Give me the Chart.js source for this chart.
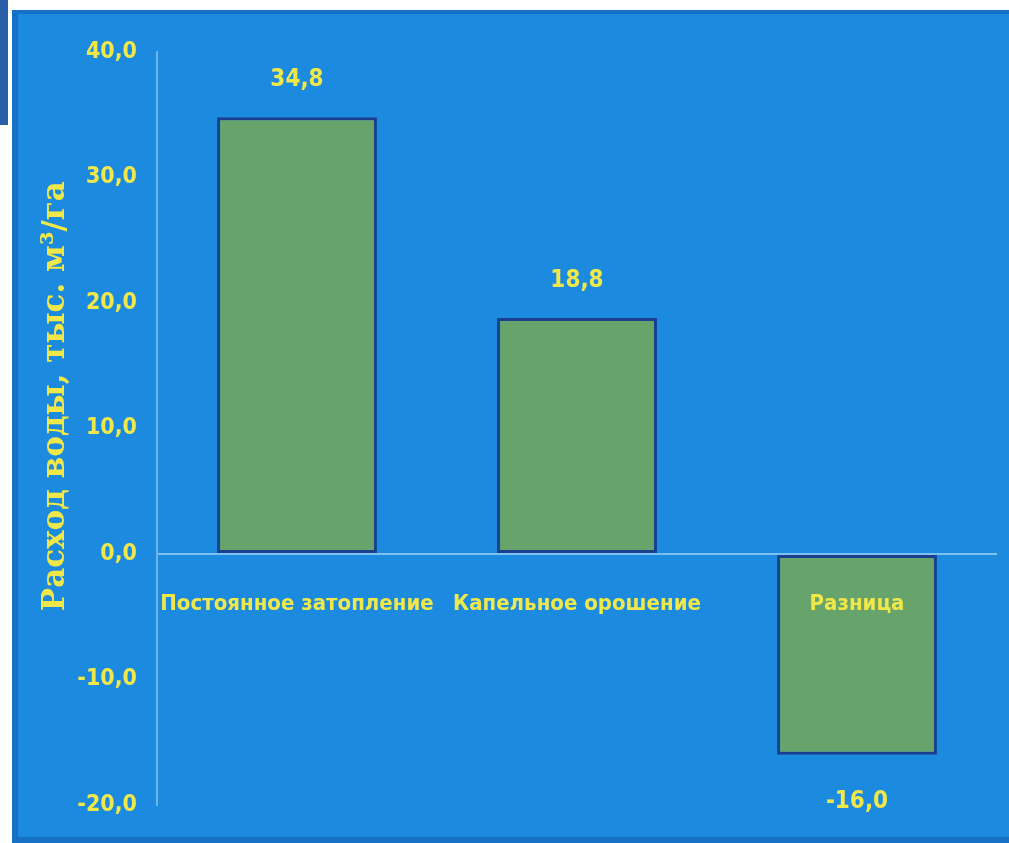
<!DOCTYPE html>
<html>
<head>
<meta charset="utf-8">
<script src="https://cdn.jsdelivr.net/npm/chart.js@4"></script>
<style>
    html, body { margin: 0; padding: 0; background: #ffffff; }
    body { width: 1009px; height: 843px; position: relative; overflow: hidden; }
    #slideMark { position: absolute; left: 0; top: 0; width: 8px; height: 125px; background: #2b5ea8; }
    #frame {
        position: absolute; left: 12px; top: 10px; width: 997px; height: 833px;
        background: #1c8ade;
        box-shadow: inset 6px 4px 0 #1670c4, inset 0 -6px 0 #1670c4;
    }
</style>
</head>
<body>
<div id="slideMark"></div>
<div id="frame"><canvas id="waterChart"></canvas></div>
<script>
const categories = ['Постоянное затопление', 'Капельное орошение', 'Разница'];
const waterUse = [34.8, 18.8, -16.0];
const yTicks = [-20, -10, 0, 10, 20, 30, 40];

const yellow = '#f0e84a';
const narrow = "'Liberation Sans Narrow', 'DejaVu Sans Condensed', 'Arial Narrow', sans-serif";

function fmt(v) {
    return v.toFixed(1).replace('.', ',');
}

// value labels above / below the bars
const valueLabels = {
    id: 'valueLabels',
    afterDatasetsDraw(chart) {
        const ctx = chart.ctx;
        const meta = chart.getDatasetMeta(0);
        ctx.save();
        ctx.font = 'bold 24px ' + narrow;
        ctx.fillStyle = yellow;
        ctx.textAlign = 'center';
        ctx.textBaseline = 'middle';
        meta.data.forEach((bar, i) => {
            const v = waterUse[i];
            const y = v >= 0 ? bar.y - 37 : bar.y + 47;
            ctx.fillText(fmt(v), bar.x, y);
        });
        ctx.restore();
    }
};

new Chart(document.getElementById('waterChart'), {
    type: 'bar',
    data: {
        labels: categories,
        datasets: [{
            data: waterUse,
            backgroundColor: '#67a46c',
            borderColor: '#1a3f8e',
            borderWidth: 3,
            borderSkipped: false,
            barPercentage: 1,
            categoryPercentage: 0.571
        }]
    },
    options: {
        responsive: true,
        maintainAspectRatio: false,
        animation: false,
        layout: { padding: { top: 42, bottom: 38, right: 12, left: 0 } },
        plugins: {
            legend: { display: false },
            tooltip: { enabled: false }
        },
        scales: {
            x: {
                position: { y: 0 },
                grid: { display: false, drawTicks: false },
                border: { display: false },
                ticks: {
                    z: 1, // category names sit on top of the bars
                    color: yellow,
                    padding: 37,
                    autoSkip: false,
                    maxRotation: 0,
                    font: { family: narrow, weight: 'bold', size: 22 }
                }
            },
            y: {
                min: -20,
                max: 40,
                afterBuildTicks: (s) => { s.ticks = yTicks.map(v => ({ value: v })); },
                afterFit: (s) => { s.width = 145; },
                grid: {
                    drawTicks: false,
                    lineWidth: 2,
                    color: (c) => c.tick && c.tick.value === 0 ? '#7ec0ee' : 'rgba(0,0,0,0)'
                },
                border: { display: true, color: '#6fb4e6', width: 2 },
                ticks: {
                    color: yellow,
                    padding: 20,
                    callback: (v) => fmt(v),
                    font: { family: narrow, weight: 'bold', size: 23 }
                },
                title: {
                    display: true,
                    text: '\u00a0\u00a0\u00a0\u00a0\u00a0\u00a0Расход воды, тыс. м³/га',
                    color: yellow,
                    padding: { top: 25, bottom: 0 },
                    font: { family: "'DejaVu Serif', 'Liberation Serif', serif", weight: 'bold', size: 31 }
                }
            }
        }
    },
    plugins: [valueLabels]
});
</script>
</body>
</html>
